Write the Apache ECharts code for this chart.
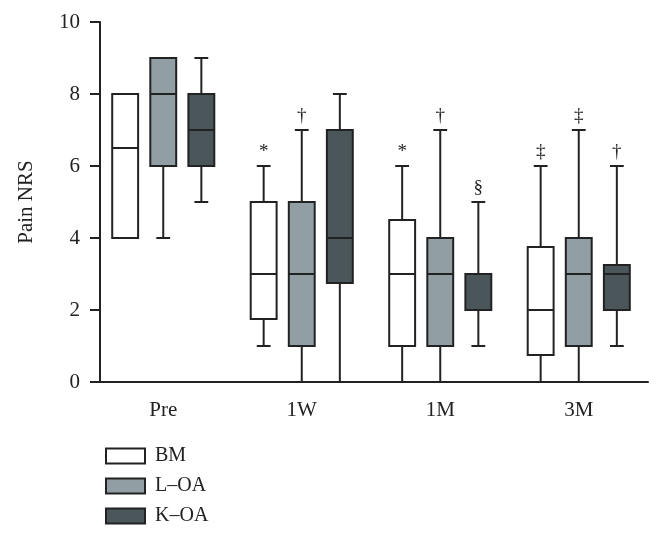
<!DOCTYPE html>
<html>
<head>
<meta charset="utf-8">
<script src="https://cdn.jsdelivr.net/npm/echarts@6/dist/echarts.min.js"></script>
<style>html,body{margin:0;padding:0;background:#fff;}#c{width:660px;height:536px;}</style>
</head>
<body>
<div id="c"></div>
<script>
const categories = ['Pre', '1W', '1M', '3M'];
const seriesNames = ['BM', 'L\u2013OA', 'K\u2013OA'];
// [min, Q1, median, Q3, max]
const bmStats  = [[4, 4, 6.5, 8, 8], [1, 1.75, 3, 5, 6], [0, 1, 3, 4.5, 6], [0, 0.75, 2, 3.75, 6]];
const loaStats = [[4, 6, 8, 9, 9], [0, 1, 3, 5, 7], [0, 1, 3, 4, 7], [0, 1, 3, 4, 7]];
const koaStats = [[5, 6, 7, 8, 9], [0, 2.75, 4, 7, 8], [1, 2, 3, 3, 5], [1, 2, 3, 3.25, 6]];
const bmMarks  = ['', '*', '*', '\u2021'];
const loaMarks = ['', '\u2020', '\u2020', '\u2021'];
const koaMarks = ['', '', '\u00a7', '\u2020'];
const yTicks = [0, 2, 4, 6, 8, 10];

const FONT = '"Liberation Serif", "DejaVu Serif", serif';
const INK = '#222';
const colors = ['#ffffff', '#919fa4', '#4a5659'];

function makeRender(offsetRatio, marks, color) {
  return function (params, api) {
    const ci = api.value(0);
    const band = api.size([1, 0])[0];
    const cx = api.coord([ci, 0])[0] + offsetRatio * band;
    const bw = band * 0.187;
    const cw = band * 0.1;
    const yMin = api.coord([ci, api.value(1)])[1];
    const yQ1 = api.coord([ci, api.value(2)])[1];
    const yMed = api.coord([ci, api.value(3)])[1];
    const yQ3 = api.coord([ci, api.value(4)])[1];
    const yMax = api.coord([ci, api.value(5)])[1];
    const ls = { stroke: INK, lineWidth: 2 };
    const children = [
      { type: 'line', shape: { x1: cx, y1: yQ3, x2: cx, y2: yMax }, style: ls },
      { type: 'line', shape: { x1: cx, y1: yQ1, x2: cx, y2: yMin }, style: ls },
      { type: 'line', shape: { x1: cx - cw / 2, y1: yMax, x2: cx + cw / 2, y2: yMax }, style: ls },
      { type: 'line', shape: { x1: cx - cw / 2, y1: yMin, x2: cx + cw / 2, y2: yMin }, style: ls },
      { type: 'rect', shape: { x: cx - bw / 2, y: yQ3, width: bw, height: yQ1 - yQ3 }, style: { fill: color, stroke: INK, lineWidth: 2 } },
      { type: 'line', shape: { x1: cx - bw / 2, y1: yMed, x2: cx + bw / 2, y2: yMed }, style: ls }
    ];
    const m = marks[params.dataIndex];
    if (m) {
      children.push({ type: 'text', x: cx, y: yMax - 4, style: { text: m, font: '19px ' + FONT, fill: INK, align: 'center', verticalAlign: 'bottom' } });
    }
    return { type: 'group', children: children };
  };
}

function toData(stats) { return stats.map((s, i) => [i].concat(s)); }

const allStats = [bmStats, loaStats, koaStats];
const allMarks = [bmMarks, loaMarks, koaMarks];
const offsets = [-0.275, 0, 0.275];

const chart = echarts.init(document.getElementById('c'), null, { renderer: 'canvas' });
chart.setOption({
  animation: false,
  backgroundColor: '#fff',
  grid: { left: 94, width: 554, top: 22, height: 360, containLabel: false },
  xAxis: {
    type: 'category',
    data: categories,
    boundaryGap: true,
    axisLine: { lineStyle: { color: INK, width: 2 } },
    axisTick: { alignWithLabel: true, length: 10, lineStyle: { color: INK, width: 2 } },
    axisLabel: { color: INK, fontFamily: FONT, fontSize: 21, margin: 18 },
    splitLine: { show: false }
  },
  yAxis: {
    type: 'value',
    min: 0, max: 10, interval: 2,
    offset: -6,
    name: 'Pain NRS',
    nameLocation: 'middle',
    nameGap: 63,
    nameRotate: 90,
    nameTextStyle: { color: INK, fontFamily: FONT, fontSize: 21 },
    axisLine: { show: true, lineStyle: { color: INK, width: 2 } },
    axisTick: { show: true, length: 10, lineStyle: { color: INK, width: 2 } },
    axisLabel: { color: INK, fontFamily: FONT, fontSize: 21, margin: 20,
      formatter: function (v) { return yTicks.indexOf(v) >= 0 ? String(v) : ''; } },
    splitLine: { show: false }
  },
  legend: {
    orient: 'vertical',
    left: 100,
    top: 441,
    icon: 'rect',
    itemWidth: 39,
    itemHeight: 15,
    itemGap: 10,
    data: seriesNames,
    itemStyle: { borderColor: INK, borderWidth: 2 },
    textStyle: { color: INK, fontFamily: FONT, fontSize: 20, padding: [0, 0, 0, 5] }
  },
  series: seriesNames.map((name, k) => ({
    name: name,
    type: 'custom',
    itemStyle: { color: colors[k] },
    encode: { x: 0, y: [1, 2, 3, 4, 5] },
    renderItem: makeRender(offsets[k], allMarks[k], colors[k]),
    data: toData(allStats[k])
  }))
});
</script>
</body>
</html>
